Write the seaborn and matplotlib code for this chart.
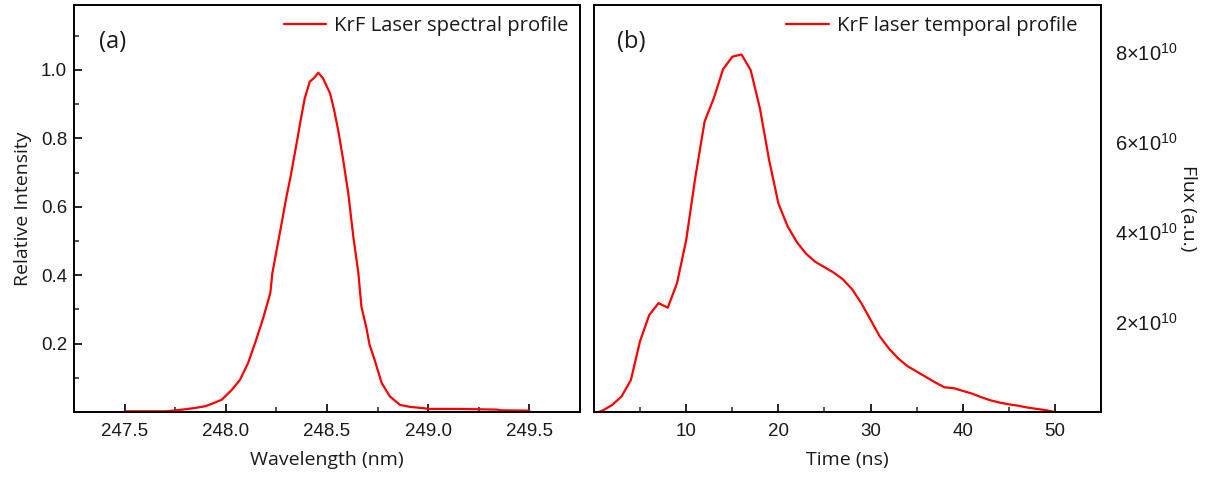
import numpy as np
import pandas as pd
import matplotlib
matplotlib.use("Agg")
import matplotlib.pyplot as plt
from matplotlib.ticker import FixedLocator, FixedFormatter, MultipleLocator
import seaborn as sns

# ---------------- data ----------------
wavelength_nm = [247.50, 247.60, 247.70, 247.74, 247.80, 247.85, 247.90, 247.94, 247.98,
                 248.03, 248.07, 248.11, 248.15, 248.185, 248.22, 248.23, 248.27, 248.30,
                 248.32, 248.35, 248.37, 248.39, 248.415, 248.435, 248.457, 248.48, 248.515,
                 248.535, 248.555, 248.58, 248.605, 248.63, 248.655, 248.67, 248.695, 248.71,
                 248.735, 248.77, 248.81, 248.86, 248.91, 248.98, 249.00, 249.15, 249.34,
                 249.36, 249.50]
rel_intensity = [0.002, 0.002, 0.002, 0.004, 0.008, 0.012, 0.017, 0.026, 0.036,
                 0.065, 0.094, 0.143, 0.211, 0.275, 0.348, 0.406, 0.533, 0.630,
                 0.688, 0.786, 0.854, 0.917, 0.966, 0.976, 0.992, 0.976, 0.932,
                 0.883, 0.825, 0.737, 0.640, 0.513, 0.406, 0.308, 0.245, 0.197,
                 0.153, 0.085, 0.046, 0.021, 0.015, 0.011, 0.009, 0.009, 0.007,
                 0.005, 0.004]

time_ns = [0.5, 1, 2, 3, 4, 5, 6, 7, 8, 9, 10, 11, 12, 13, 14, 15, 16, 17, 18, 19, 20,
           21, 22, 23, 24, 25, 26, 27, 28, 29, 30, 31, 32, 33, 34, 35, 36, 37, 38, 39,
           40, 41, 42, 43, 44, 45, 46, 47, 48, 49, 50]
flux_1e10 = [0.0, 0.04, 0.16, 0.35, 0.71, 1.58, 2.16, 2.42, 2.32, 2.86, 3.82, 5.23,
             6.46, 6.98, 7.62, 7.90, 7.95, 7.60, 6.75, 5.60, 4.64, 4.13, 3.78, 3.52,
             3.34, 3.22, 3.10, 2.95, 2.73, 2.42, 2.05, 1.68, 1.41, 1.19, 1.02, 0.90,
             0.78, 0.66, 0.55, 0.53, 0.47, 0.41, 0.33, 0.26, 0.21, 0.17, 0.14, 0.10,
             0.07, 0.04, 0.0]

wl_ticks = [247.5, 248.0, 248.5, 249.0, 249.5]
wl_tick_labels = ["247.5", "248.0", "248.5", "249.0", "249.5"]
ri_ticks = [0.2, 0.4, 0.6, 0.8, 1.0]
ri_tick_labels = ["0.2", "0.4", "0.6", "0.8", "1.0"]
t_ticks = [10, 20, 30, 40, 50]
t_tick_labels = ["10", "20", "30", "40", "50"]
flux_ticks = [2e10, 4e10, 6e10, 8e10]
flux_tick_labels = [r"$2{\times}10^{10}$", r"$4{\times}10^{10}$",
                    r"$6{\times}10^{10}$", r"$8{\times}10^{10}$"]

df_spec = pd.DataFrame({"Wavelength": wavelength_nm, "Intensity": rel_intensity})
df_temp = pd.DataFrame({"Time": time_ns, "Flux": np.array(flux_1e10) * 1e10})

# ---------------- style ----------------
sns.set_theme(style="ticks")
plt.rcParams["font.family"] = ["Liberation Sans", "DejaVu Sans"]
plt.rcParams["mathtext.fontset"] = "custom"
plt.rcParams["mathtext.rm"] = "Liberation Sans"
plt.rcParams["mathtext.it"] = "Liberation Sans:italic"
plt.rcParams["mathtext.bf"] = "Liberation Sans:bold"

LABEL_FONT = ["Open Sans", "DejaVu Sans"]
RED = "#ff0000"
TXT = "#1a1a1a"

fig = plt.figure(figsize=(12.06, 4.82), dpi=100)
ax1 = fig.add_axes([74 / 1206, 70 / 482, 506 / 1206, 407 / 482])
ax2 = fig.add_axes([594 / 1206, 70 / 482, 507 / 1206, 407 / 482])

sns.lineplot(data=df_spec, x="Wavelength", y="Intensity", ax=ax1, color=RED,
             linewidth=1.6, label="KrF Laser spectral profile")
sns.lineplot(data=df_temp, x="Time", y="Flux", ax=ax2, color=RED,
             linewidth=1.6, label="KrF laser temporal profile")

for ax in (ax1, ax2):
    for s in ax.spines.values():
        s.set_visible(True)
        s.set_linewidth(1.4)
        s.set_color("black")
    ax.tick_params(which="major", direction="in", length=6, width=1.2,
                   labelsize=13.5, colors="black", labelcolor=TXT)
    ax.tick_params(which="minor", direction="in", length=3.5, width=1.1)

# panel a
ax1.set_xlim(247.25, 249.75)
ax1.set_ylim(0, 1.19)
ax1.xaxis.set_major_locator(FixedLocator(wl_ticks))
ax1.xaxis.set_major_formatter(FixedFormatter(wl_tick_labels))
ax1.xaxis.set_minor_locator(MultipleLocator(0.25))
ax1.yaxis.set_major_locator(FixedLocator(ri_ticks))
ax1.yaxis.set_major_formatter(FixedFormatter(ri_tick_labels))
ax1.yaxis.set_minor_locator(FixedLocator([0.1, 0.3, 0.5, 0.7, 0.9, 1.1]))
ax1.tick_params(axis="x", which="major", pad=8)
ax1.tick_params(axis="y", which="major", pad=5)
ax1.set_xlabel("Wavelength (nm)", family=LABEL_FONT, fontsize=14, color=TXT, labelpad=8)
ax1.set_ylabel("Relative Intensity", family=LABEL_FONT, fontsize=14, color=TXT, labelpad=6)
ax1.text(0.05, 0.91, "(a)", transform=ax1.transAxes, family=LABEL_FONT, fontsize=17,
         va="center", ha="left", color=TXT)
leg1 = ax1.legend(loc="upper right", frameon=False, fontsize=14.6, handlelength=2.1,
                  handletextpad=0.4, borderaxespad=0.15, bbox_to_anchor=(1.0, 1.0))
for t in leg1.get_texts():
    t.set_family(LABEL_FONT)
    t.set_color(TXT)

# panel b
ax2.set_xlim(0, 55)
ax2.set_ylim(0, 9.05e10)
ax2.xaxis.set_major_locator(FixedLocator(t_ticks))
ax2.xaxis.set_major_formatter(FixedFormatter(t_tick_labels))
ax2.xaxis.set_minor_locator(FixedLocator([5, 15, 25, 35, 45]))
ax2.yaxis.tick_right()
ax2.yaxis.set_label_position("right")
ax2.yaxis.set_major_locator(FixedLocator(flux_ticks))
ax2.yaxis.set_major_formatter(FixedFormatter(flux_tick_labels))
ax2.tick_params(axis="y", which="both", length=0, pad=10, labelsize=14.5)
ax2.tick_params(axis="x", which="major", pad=8)
ax2.set_xlabel("Time (ns)", family=LABEL_FONT, fontsize=14, color=TXT, labelpad=8)
ax2.set_ylabel("Flux (a.u.)", family=LABEL_FONT, fontsize=14, color=TXT,
               rotation=270, labelpad=14)
ax2.text(0.045, 0.91, "(b)", transform=ax2.transAxes, family=LABEL_FONT, fontsize=17,
         va="center", ha="left", color=TXT)
leg2 = ax2.legend(loc="upper right", frameon=False, fontsize=14.6, handlelength=2.1,
                  handletextpad=0.4, borderaxespad=0.15, bbox_to_anchor=(0.975, 1.0))
for t in leg2.get_texts():
    t.set_family(LABEL_FONT)
    t.set_color(TXT)

fig.savefig("out.png", dpi=100)
